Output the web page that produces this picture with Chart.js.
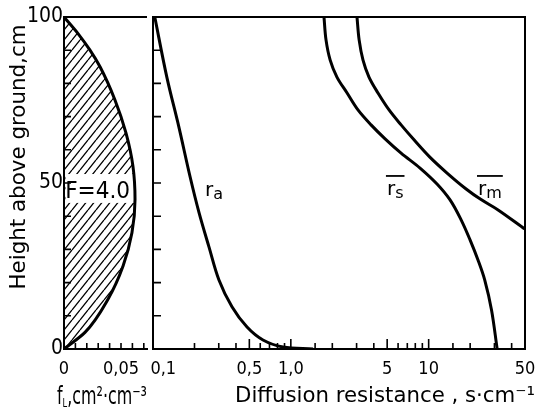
<!DOCTYPE html>
<html>
<head>
<meta charset="utf-8">
<title>Leaf area density and diffusion resistance</title>
<script src="https://cdn.jsdelivr.net/npm/chart.js@4.4.1/dist/chart.umd.min.js"></script>
<style>
  body { margin: 0; background: #fff; }
  #figure { position: relative; width: 538px; height: 409px; overflow: hidden; background: #fff; }
  #leafChart { position: absolute; left: 0; top: 0; }
  #resistChart { position: absolute; left: 130px; top: 0; }
</style>
</head>
<body>
<div id="figure">
  <canvas id="leafChart" width="150" height="409"></canvas>
  <canvas id="resistChart" width="408" height="409"></canvas>
</div>
<script>
// ---- data ----
// left panel: leaf area density f_L (cm2 cm-3) against height (cm)
const leafHeights = [100, 95, 90, 85, 75, 65, 55, 45, 35, 25, 15, 5, 0];
const leafDensity = [0, 0.0123, 0.0228, 0.0316, 0.0447, 0.0544, 0.0605, 0.0623, 0.0596, 0.0518, 0.0386, 0.0184, 0];
const leafTicks = [0, 0.01, 0.02, 0.03, 0.04, 0.05, 0.06, 0.07];
const leafTickLabels = ['0', '', '', '', '', '0,05', '', ''];
const leafAreaLabel = 'F=4.0';

// shared height axis
const heightTicks = [0, 10, 20, 30, 40, 50, 60, 70, 80, 90, 100];
const heightTickLabels = ['0', '', '', '', '', '50', '', '', '', '', '100'];

// right panel: diffusion resistances (s cm-1) against height (cm)
const raHeights = [100, 81.9, 66.9, 51.8, 41.0, 30.7, 20.8, 12.7, 6.6, 2.7, 0.6, 0];
const raValues  = [0.103, 0.126, 0.154, 0.186, 0.216, 0.255, 0.301, 0.374, 0.481, 0.628, 0.878, 1.45];
const rsHeights = [100, 93.1, 87.0, 81.9, 77.1, 72.0, 67.5, 63.3, 59.0, 54.5, 49.7, 44.9, 38.9, 32.8, 26.8, 20.8, 11.7, 0];
const rsValues  = [1.74, 1.80, 1.93, 2.16, 2.56, 3.07, 3.82, 4.83, 6.31, 8.66, 11.5, 14.3, 17.2, 20.0, 22.8, 25.5, 28.6, 31.4];
const rmHeights = [100, 93.1, 87.0, 81.9, 77.1, 72.0, 67.5, 63.0, 57.8, 53.0, 48.2, 45.0, 41.9, 36.1];
const rmValues  = [3.02, 3.13, 3.34, 3.69, 4.29, 5.16, 6.31, 7.83, 10.2, 13.6, 18.7, 24.0, 31.9, 50];
const resistTicks = [0.1, 0.5, 1, 5, 10, 50];
const resistTickLabels = ['0,1', '0,5', '1,0', '5', '10', '50'];

const heightTitle = 'Height above ground,cm';
const resistTitle = 'Diffusion resistance , s·cm⁻¹';

const TEXT_FONT = "'DejaVu Sans', sans-serif";
const SCALE_FONT = "'Liberation Sans Narrow', 'DejaVu Sans Condensed', 'DejaVu Sans', sans-serif";

Chart.defaults.color = '#000';
Chart.defaults.font.family = SCALE_FONT;
Chart.defaults.font.size = 18;
Chart.defaults.animation = false;

let chartLeaf = null;
let chartResist = null;

/**
 * Writes a run of text pieces (sizes, offsets) one after another.
 * opts: rotate, center, width (squeeze to this width), bar (overline height)
 */
function drawPieces(ctx, pieces, x, y, opts = {}) {
    ctx.save();
    ctx.translate(x, y);
    if (opts.rotate) ctx.rotate(opts.rotate);
    ctx.fillStyle = '#000';
    ctx.strokeStyle = '#000';
    ctx.textAlign = 'left';
    ctx.textBaseline = 'alphabetic';
    let total = 0;
    const widths = pieces.map(p => {
        ctx.font = `${p.size}px ${TEXT_FONT}`;
        const w = ctx.measureText(p.text).width;
        total += w;
        return w;
    });
    if (opts.width) ctx.scale(opts.width / total, 1);
    let cx = opts.center ? -total / 2 : 0;
    const start = cx;
    pieces.forEach((p, i) => {
        ctx.font = `${p.size}px ${TEXT_FONT}`;
        ctx.fillText(p.text, cx, p.dy || 0);
        cx += widths[i];
    });
    if (opts.bar) {
        ctx.lineWidth = 1.8;
        ctx.beginPath();
        ctx.moveTo(start - 1, -opts.bar);
        ctx.lineTo(cx + 1, -opts.bar);
        ctx.stroke();
    }
    ctx.restore();
}

// short tick marks pointing into the plot area
const inwardTicks = {
    id: 'inwardTicks',
    afterDraw(chart, args, opts) {
        const { ctx, chartArea: area, scales } = chart;
        ctx.save();
        ctx.strokeStyle = '#000';
        ctx.lineWidth = 1.6;
        ctx.beginPath();
        scales.x.ticks.forEach(t => {
            const px = scales.x.getPixelForValue(t.value);
            const len = t.label ? opts.xMajor : opts.xMinor;
            ctx.moveTo(px, area.bottom);
            ctx.lineTo(px, area.bottom - len);
        });
        scales.y.ticks.forEach(t => {
            const py = scales.y.getPixelForValue(t.value);
            ctx.moveTo(area.left, py);
            ctx.lineTo(area.left + opts.yLen, py);
        });
        ctx.stroke();
        ctx.restore();
    }
};

// top line (and right side when asked)
const frameLines = {
    id: 'frameLines',
    afterDraw(chart, args, opts) {
        const { ctx, chartArea: a } = chart;
        ctx.save();
        ctx.strokeStyle = '#000';
        ctx.lineWidth = 2;
        ctx.beginPath();
        ctx.moveTo(a.left - 1, a.top);
        ctx.lineTo(a.right, a.top);
        if (opts.right) ctx.lineTo(a.right, a.bottom + 1);
        ctx.stroke();
        ctx.restore();
    }
};

function makeHatch(ctx) {
    const tile = document.createElement('canvas');
    tile.width = 8;
    tile.height = 10;
    const c = tile.getContext('2d');
    c.strokeStyle = '#000';
    c.lineWidth = 1.3;
    c.beginPath();
    [-1, 0, 1].forEach(k => {
        c.moveTo(k * 8, 10);
        c.lineTo(k * 8 + 8, 0);
    });
    c.stroke();
    return ctx.createPattern(tile, 'repeat');
}

// keep the chart area exactly where the layout padding puts it
function fixHeight(h) {
    return s => { s.height = h; s.paddingLeft = 0; s.paddingRight = 0; };
}
function fixWidth(w) {
    return s => { s.width = w; s.paddingTop = 0; s.paddingBottom = 0; };
}

function loadLeafChart() {
    const canvas = document.getElementById('leafChart');
    const ctx = canvas.getContext('2d');

    const leafBox = {
        id: 'leafBox',
        // runs after the hatch fill, before the outline is stroked
        beforeDatasetDraw(chart) {
            const { ctx, chartArea, scales: { x, y } } = chart;
            const left = chartArea.left + 1.5;
            const right = x.getPixelForValue(0.0622);
            const top = y.getPixelForValue(52.7);
            const bottom = y.getPixelForValue(44);
            ctx.save();
            ctx.fillStyle = '#fff';
            ctx.fillRect(left, top, right - left, bottom - top);
            ctx.restore();
            drawPieces(ctx, [{ text: leafAreaLabel, size: 23 }],
                x.getPixelForValue(0.0295), y.getPixelForValue(45.6), { center: true, width: 65 });
        }
    };

    const leafTitles = {
        id: 'leafTitles',
        afterDraw(chart) {
            const ctx = chart.ctx;
            drawPieces(ctx, [{ text: heightTitle, size: 21 }], 25, 157,
                { rotate: -Math.PI / 2, center: true, width: 265 });
            drawPieces(ctx, [
                { text: 'f', size: 25 },
                { text: 'L', size: 13, dy: 3 },
                { text: ',cm²·cm⁻³', size: 25 }
            ], 57, 404, { width: 90 });
        }
    };

    chartLeaf = new Chart(ctx, {
        type: 'line',
        data: {
            datasets: [{
                data: leafHeights.map((h, i) => ({ x: leafDensity[i], y: h })),
                borderColor: '#000',
                borderWidth: 3,
                pointRadius: 0,
                fill: 'shape',
                backgroundColor: makeHatch(ctx),
                cubicInterpolationMode: 'monotone'
            }]
        },
        options: {
            indexAxis: 'y',
            responsive: false,
            layout: { padding: { top: 17, right: 3, left: 0, bottom: 0 } },
            plugins: {
                legend: { display: false },
                tooltip: { enabled: false },
                inwardTicks: { xMajor: 6, xMinor: 6, yLen: 7 },
                frameLines: { right: false }
            },
            scales: {
                x: {
                    type: 'linear',
                    min: 0,
                    max: 0.0728,
                    afterBuildTicks: s => { s.ticks = leafTicks.map(v => ({ value: v })); },
                    afterFit: fixHeight(60),
                    ticks: {
                        autoSkip: false,
                        maxRotation: 0,
                        padding: 10,
                        callback: (v, i) => leafTickLabels[i]
                    },
                    grid: { display: false, drawTicks: false },
                    border: { display: true, color: '#000', width: 2 }
                },
                y: {
                    type: 'linear',
                    min: 0,
                    max: 100,
                    afterBuildTicks: s => { s.ticks = heightTicks.map(v => ({ value: v })); },
                    afterFit: fixWidth(64),
                    ticks: {
                        autoSkip: false,
                        padding: 1,
                        font: { size: 21 },
                        callback: (v, i) => heightTickLabels[i]
                    },
                    grid: { display: false, drawTicks: false },
                    border: { display: true, color: '#000', width: 2 }
                }
            }
        },
        plugins: [leafBox, inwardTicks, frameLines, leafTitles]
    });
}

function loadResistChart() {
    const canvas = document.getElementById('resistChart');
    const ctx = canvas.getContext('2d');

    const line = (heights, values) => ({
        data: heights.map((h, i) => ({ x: values[i], y: h })),
        borderColor: '#000',
        borderWidth: 3,
        pointRadius: 0,
        fill: false,
        tension: 0.35
    });

    const curveLabels = {
        id: 'curveLabels',
        afterDraw(chart, args, opts) {
            const { ctx, scales: { x, y } } = chart;
            opts.items.forEach(it => {
                drawPieces(ctx, [
                    { text: 'r', size: 20 },
                    { text: it.sub, size: 16, dy: 3 }
                ], x.getPixelForValue(it.x), y.getPixelForValue(it.y), { bar: it.bar ? 19 : 0 });
            });
            drawPieces(ctx, [{ text: resistTitle, size: 21 }], 105, 402, { width: 300 });
        }
    };

    chartResist = new Chart(ctx, {
        type: 'line',
        data: {
            datasets: [line(raHeights, raValues), line(rsHeights, rsValues), line(rmHeights, rmValues)]
        },
        options: {
            responsive: false,
            layout: { padding: { top: 17, right: 13, left: 0, bottom: 0 } },
            plugins: {
                legend: { display: false },
                tooltip: { enabled: false },
                inwardTicks: { xMajor: 10, xMinor: 6, yLen: 8 },
                frameLines: { right: true },
                curveLabels: {
                    items: [
                        { sub: 'a', x: 0.2385, y: 46.1, bar: false },
                        { sub: 's', x: 4.98, y: 46.4, bar: true },
                        { sub: 'm', x: 22.8, y: 46.4, bar: true }
                    ]
                }
            },
            scales: {
                x: {
                    type: 'logarithmic',
                    min: 0.1,
                    max: 50,
                    afterFit: fixHeight(60),
                    ticks: {
                        autoSkip: false,
                        maxRotation: 0,
                        padding: 10,
                        callback: v => {
                            const i = resistTicks.findIndex(t => Math.abs(t / v - 1) < 1e-6);
                            if (i < 0) return '';
                            // first label sits just right of the axis corner
                            return i === 0 ? '\u2007\u2007' + resistTickLabels[i] : resistTickLabels[i];
                        }
                    },
                    grid: { display: false, drawTicks: false },
                    border: { display: true, color: '#000', width: 2 }
                },
                y: {
                    type: 'linear',
                    min: 0,
                    max: 100,
                    afterBuildTicks: s => { s.ticks = heightTicks.map(v => ({ value: v })); },
                    afterFit: fixWidth(23),
                    ticks: { display: false },
                    grid: { display: false, drawTicks: false },
                    border: { display: true, color: '#000', width: 2 }
                }
            }
        },
        plugins: [inwardTicks, frameLines, curveLabels]
    });
}

loadLeafChart();
loadResistChart();
</script>
</body>
</html>
